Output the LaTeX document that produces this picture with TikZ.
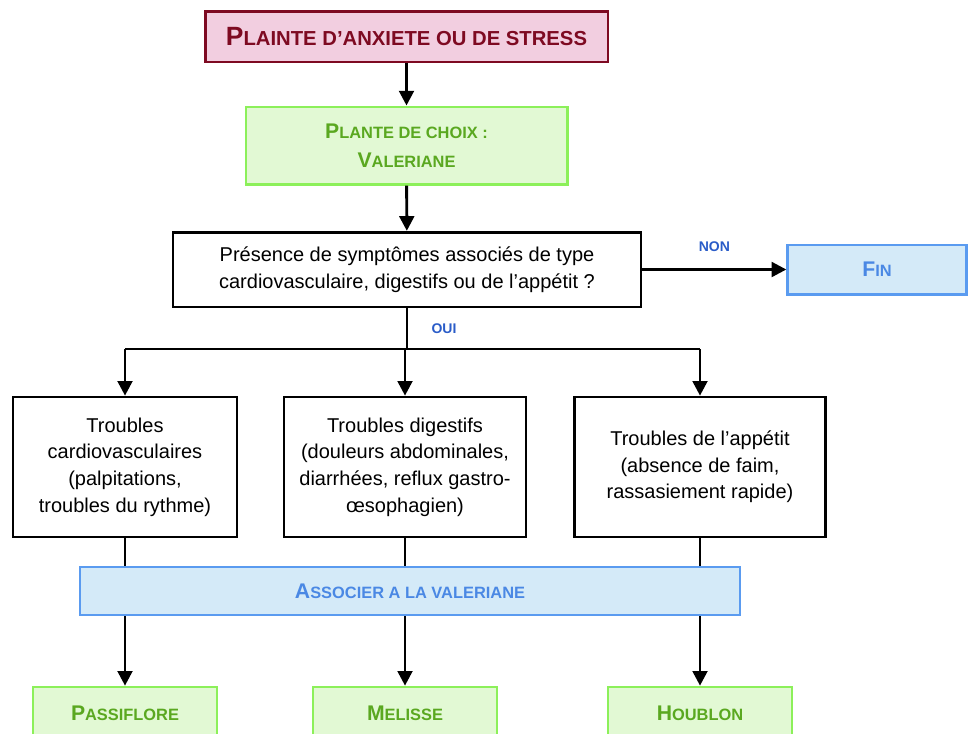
\documentclass[tikz,border=0pt]{standalone}
\usepackage{fontspec}
\setmainfont{Liberation Sans}
\usetikzlibrary{arrows.meta, positioning}

\definecolor{roseFond}{HTML}{F2CEE0}
\definecolor{roseBord}{HTML}{7E0A22}
\definecolor{vertFond}{HTML}{E2F9D4}
\definecolor{vertBord}{HTML}{8CF05A}
\definecolor{vertTexte}{HTML}{5AA820}
\definecolor{bleuFond}{HTML}{D4EAF8}
\definecolor{bleuBord}{HTML}{5A9BF0}
\definecolor{bleuTexte}{HTML}{4A88E4}
\definecolor{bleuLabel}{HTML}{2A5CC8}

% petites capitales simulees
\newcommand{\lettreG}[1]{{\fontsize{19.8}{22}\selectfont #1}}
\newcommand{\lettre}[1]{{\fontsize{15.9}{22}\selectfont #1}}

\begin{document}
\begin{tikzpicture}[x=0.75pt, y=-0.75pt,
    fleche/.style={-{Triangle[length=11pt,width=11pt]}, line width=2.2pt},
    trait/.style={line width=2.2pt},
    boite/.style={draw, line width=2pt, align=center, inner sep=2pt},
    rosebox/.style={boite, fill=roseFond, draw=roseBord, text=roseBord,
        font=\bfseries\fontsize{15.2}{18}\selectfont},
    vertbox/.style={boite, fill=vertFond, draw=vertBord, text=vertTexte,
        font=\bfseries\fontsize{12.3}{22}\selectfont},
    bleubox/.style={boite, fill=bleuFond, draw=bleuBord, text=bleuTexte,
        font=\bfseries\fontsize{12.3}{16}\selectfont},
    blancbox/.style={boite, fill=white, draw=black,
        font=\fontsize{15}{20}\selectfont},
    etiquette/.style={text=bleuLabel, font=\bfseries\fontsize{10.5}{12}\selectfont}]

\useasboundingbox (0,0) rectangle (968,733);

% Plainte et plante de choix
\node[rosebox, minimum width=302pt, minimum height=38pt] (plainte) at (406.5,36.5)
    {\lettreG{P}LAINTE D’ANXIETE OU DE STRESS};
\node[vertbox, minimum width=241pt, minimum height=58pt] (choix) at (406.5,145.5)
    {\lettre{P}LANTE DE CHOIX :\\\lettre{V}ALERIANE};

% Question
\node[blancbox, minimum width=351pt, minimum height=56pt] (question) at (407,269.5)
    {Présence de symptômes associés de type\\cardiovasculaire, digestifs ou de l’appétit ?};
\node[bleubox, minimum width=134pt, minimum height=37pt] (fin) at (877,269.5)
    {\lettre{F}IN};

% Troubles associes
\node[blancbox, minimum width=168pt, minimum height=105pt] (cardio) at (125,467)
    {Troubles\\cardiovasculaires\\(palpitations,\\troubles du rythme)};
\node[blancbox, minimum width=181.5pt, minimum height=105pt] (digest) at (405,467)
    {Troubles digestifs\\(douleurs abdominales,\\diarrhées, reflux gastro-\\œsophagien)};
\node[blancbox, minimum width=188pt, minimum height=105pt] (appetit) at (700,467)
    {Troubles de l’appétit\\(absence de faim,\\rassasiement rapide)};

\node[bleubox, minimum width=495pt, minimum height=36pt] (associer) at (410,591)
    {\lettre{A}SSOCIER A LA VALERIANE};

% Plantes
\node[vertbox, minimum width=138pt, minimum height=39pt] (passiflore) at (125,713)
    {\lettre{P}ASSIFLORE};
\node[vertbox, minimum width=138pt, minimum height=39pt] (melisse) at (405,713)
    {\lettre{M}ELISSE};
\node[vertbox, minimum width=138pt, minimum height=39pt] (houblon) at (700,713)
    {\lettre{H}OUBLON};

% Connecteurs
\draw[fleche] (plainte) -- (choix);
\draw[fleche] (choix) -- (question);
\draw[fleche] (question.east |- fin) -- (fin)
    node[etiquette, midway, above=9pt] {NON};

\coordinate (branche) at (407,349);
\draw[trait] (question.south -| branche) -- (branche)
    node[etiquette, midway, right=14pt] {OUI};
\draw[trait] (branche -| cardio) -- (branche -| appetit);
\foreach \t in {cardio, digest, appetit}
    \draw[fleche] (branche -| \t) -- (\t);

\foreach \t/\p in {cardio/passiflore, digest/melisse, appetit/houblon} {
    \draw[trait] (\t.south) -- (\t.south |- associer.north);
    \draw[fleche] (associer.south -| \t) -- (\p);
}

\end{tikzpicture}
\end{document}
